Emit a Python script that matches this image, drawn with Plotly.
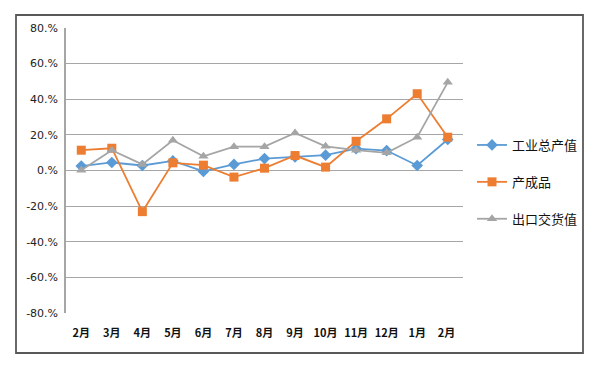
import plotly.graph_objects as go

categories = ["2月", "3月", "4月", "5月", "6月", "7月", "8月", "9月", "10月", "11月", "12月", "1月", "2月 "]
industrial_output = [2.5, 4.5, 2.8, 5.4, -0.5, 3.4, 6.7, 7.7, 8.6, 12.3, 11.2, 2.8, 17.4]
finished_goods = [11.4, 12.5, -23.1, 4.3, 3.0, -3.7, 1.3, 8.4, 1.9, 16.4, 29.0, 43.1, 18.7]
export_value = [0.2, 11.4, 3.4, 17.0, 8.0, 13.4, 13.4, 21.1, 13.6, 11.4, 9.9, 18.7, 49.5]
series_names = ["工业总产值", "产成品", "出口交货值"]
y_ticks = [-80, -60, -40, -20, 0, 20, 40, 60, 80]
y_tick_labels = [f"{v}.%" for v in y_ticks]

colors = ["#5B9BD5", "#ED7D31", "#A5A5A5"]
symbols = ["diamond", "square", "triangle-up"]
sizes = [9, 9, 9]

fig = go.Figure()
for i, (name, vals) in enumerate(zip(series_names, [industrial_output, finished_goods, export_value])):
    fig.add_trace(go.Scatter(
        x=categories, y=vals, name=name, mode="lines+markers",
        line=dict(color=colors[i], width=1.8),
        marker=dict(symbol=symbols[i], size=sizes[i], color=colors[i]),
        legendgroup=f"g{i}",
    ))

L, R, T, B = 66, 137, 28, 55
W, H = 600, 368
pw, ph = W - L - R, H - T - B

def px(x):
    return (x - L) / pw

def py(y):
    return (H - B - y) / ph

fig.add_shape(type="rect", xref="paper", yref="paper",
              x0=px(16), x1=px(583), y0=py(353), y1=py(15),
              line=dict(color="#595959", width=1.8), layer="below")

fig.update_layout(
    width=W, height=H,
    margin=dict(l=L, r=R, t=T, b=B),
    plot_bgcolor="white", paper_bgcolor="white",
    font=dict(family="Noto Sans CJK SC, DejaVu Sans", color="#222222"),
    showlegend=True,
    legend=dict(x=px(472), y=py(130), xanchor="left", yanchor="top",
                font=dict(size=13, family="Noto Sans CJK SC", color="#111111"),
                traceorder="grouped", tracegroupgap=17,
                bgcolor="rgba(0,0,0,0)", itemwidth=30),
    xaxis=dict(type="category", showgrid=False, zeroline=False, showline=False,
               ticks="", tickfont=dict(size=11, family="Noto Sans CJK SC", color="#111111", weight="bold"),
               range=[-0.5, 12.5], ticklabelstandoff=12),
    yaxis=dict(range=[-80, 80], tickvals=y_ticks, ticktext=y_tick_labels,
               showgrid=True, gridcolor="#A6A6A6", gridwidth=1,
               zeroline=False, showline=True, linecolor="#A6A6A6", linewidth=1.5,
               ticks="", tickfont=dict(size=11, family="DejaVu Sans", color="#222222"),
               ticklabelstandoff=4),
)

fig.write_html("out.html", post_script="document.body.style.margin='0';",
               config={"displayModeBar": False})
